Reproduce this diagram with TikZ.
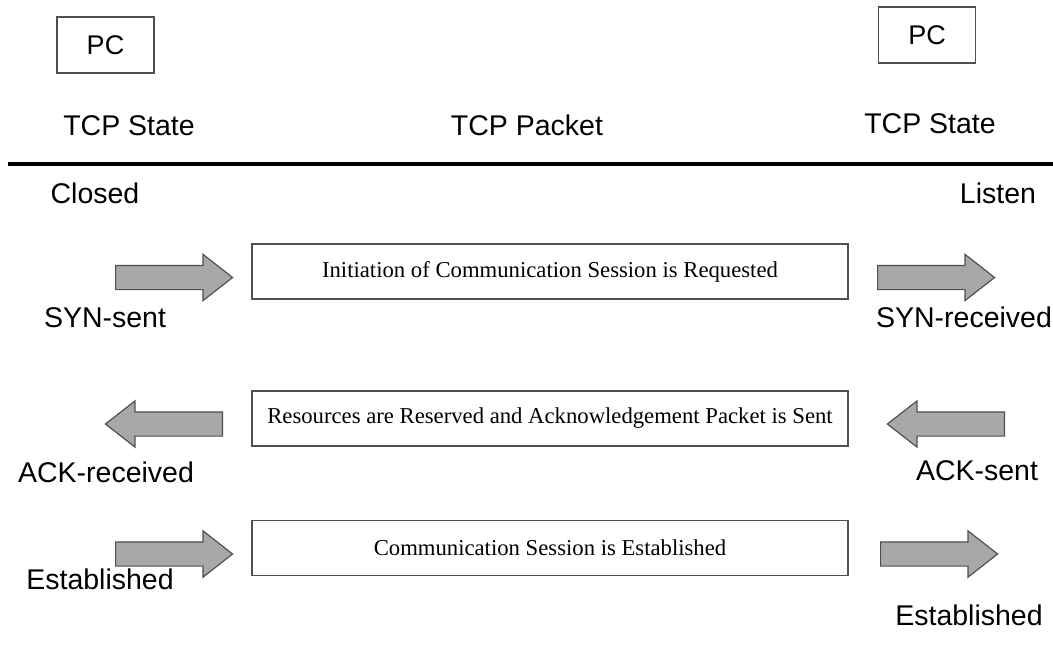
\documentclass[tikz,border=0pt]{standalone}
\usepackage{fontspec}
\setmainfont{Liberation Serif}
\newfontfamily\arialfont{Liberation Sans}
\usetikzlibrary{shapes.arrows}
\definecolor{arrowfill}{RGB}{168,168,168}
\definecolor{edgegray}{RGB}{80,80,80}
\tikzset{
  lbl/.style={font=\arialfont\fontsize{28.5}{30}\selectfont, anchor=base, inner sep=0pt},
  pcbox/.style={draw=edgegray, line width=1.2pt, minimum width=97pt, minimum height=56pt, inner sep=0pt, font=\arialfont\fontsize{27}{30}\selectfont},
  msgbox/.style={draw=edgegray, line width=1.5pt, minimum width=596pt, minimum height=55pt, inner sep=0pt, font=\fontsize{22.7}{26}\selectfont},
  bigarrow/.style={single arrow, draw=edgegray, fill=arrowfill, line width=1.2pt,
    minimum height=117pt, minimum width=45pt, inner xsep=0pt, inner ysep=11.5pt,
    single arrow head extend=11pt, single arrow tip angle=76, single arrow head indent=0pt,
    anchor=tail}
}
\begin{document}
\begin{tikzpicture}[x=1pt,y=-1pt]
\useasboundingbox (0,0) rectangle (1053,659);
% PC boxes
\node[pcbox] (pcL) at (105.5,45) {PC};
\node[pcbox] (pcR) at (927,35) {PC};
% headers
\node[lbl] (stL) at (129,135) {TCP State};
\node[lbl] (pkt) at (527,135) {TCP Packet};
\node[lbl] (stR) at (930,133) {TCP State};
\coordinate (lineL) at (8,164);
\coordinate (lineR) at (1053,164);
\draw[line width=4pt] (lineL) -- (lineR);
% initial states
\node[lbl] (closed) at (95,203) {Closed};
\node[lbl] (listen) at (998,203) {Listen};
% row 1
\node[bigarrow] (a1L) at (115,277.5) {};
\node[msgbox] (m1) at (550,271.5) {Initiation of Communication Session is Requested};
\node[bigarrow] (a1R) at (877,277.5) {};
\node[lbl] (synS) at (105,327) {SYN-sent};
\node[lbl] (synR) at (964,327) {SYN-received};
% row 2
\node[bigarrow, shape border rotate=180] (a2L) at (223,424) {};
\node[msgbox] (m2) at (550,418.5) {Resources are Reserved and Acknowledgement Packet is Sent};
\node[bigarrow, shape border rotate=180] (a2R) at (1005,424) {};
\node[lbl] (ackR) at (106,482) {ACK-received};
\node[lbl] (ackS) at (977,480) {ACK-sent};
% row 3
\node[bigarrow] (a3L) at (115,554) {};
\node[msgbox] (m3) at (550,548) {Communication Session is Established};
\node[bigarrow] (a3R) at (880,554) {};
\node[lbl] (estL) at (100,589) {Established};
\node[lbl] (estR) at (969,625) {Established};
\end{tikzpicture}
\end{document}
